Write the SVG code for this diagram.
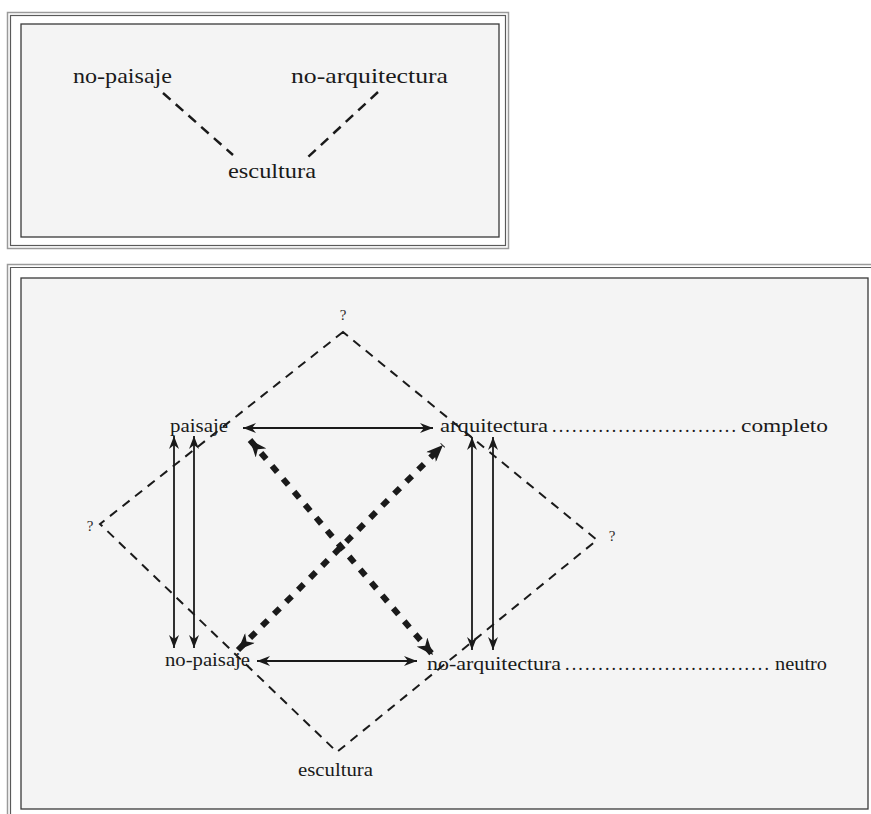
<svg xmlns="http://www.w3.org/2000/svg" width="871" height="814" viewBox="0 0 871 814">
  <style>
    .lbl { font-family: "Liberation Serif", "Times New Roman", serif; fill: #1a1a1a; }
    .top { font-size: 21px; }
    .bot { font-size: 18px; }
    .q { font-family: "Liberation Serif", "Times New Roman", serif; font-size: 15px; fill: #2a2a2a; }
    .frameA { fill: none; stroke: #9a9a9a; stroke-width: 1.5; }
    .frameB { fill: none; stroke: #5a5a5a; stroke-width: 1.2; }
    .panel { fill: #f4f4f4; stroke: #3a3a3a; stroke-width: 1.3; }
    .dash { fill: none; stroke: #1a1a1a; stroke-width: 2; stroke-dasharray: 9 7; }
    .dashT { fill: none; stroke: #1a1a1a; stroke-width: 2.5; stroke-dasharray: 10 7; }
    .thick { fill: none; stroke: #1a1a1a; stroke-width: 6; stroke-dasharray: 8 9; }
    .arr { fill: none; stroke: #1a1a1a; stroke-width: 1.8; }
  </style>
  <defs>
    <marker id="ah" markerUnits="userSpaceOnUse" markerWidth="14" markerHeight="12" refX="13" refY="5" orient="auto-start-reverse" viewBox="0 0 14 10">
      <path d="M0,0 L13,5 L0,10 L4,5 z" fill="#1a1a1a"/>
    </marker>
    <marker id="ahb" markerUnits="userSpaceOnUse" markerWidth="18" markerHeight="14" refX="17" refY="7" orient="auto-start-reverse" viewBox="0 0 18 14">
      <path d="M0,0 L17,7 L0,14 L5,7 z" fill="#1a1a1a"/>
    </marker>
  </defs>

  <rect width="871" height="814" fill="#ffffff"/>

  <!-- top panel frame -->
  <g id="frame-top">
    <rect class="frameA" x="7.5" y="12.5" width="501" height="236"/>
    <rect class="frameB" x="10.5" y="15.5" width="495" height="230"/>
    <rect class="panel" x="21" y="24" width="478" height="213"/>
  </g>

  <!-- bottom panel frame -->
  <g id="frame-bottom">
    <path class="frameA" d="M7.5,814 V264.5 H871"/>
    <path class="frameB" d="M10.5,814 V267.5 H871"/>
    <rect class="panel" x="21" y="278" width="847" height="531"/>
  </g>

  <!-- connectors -->
  <g id="connectors">
    <!-- top panel -->
    <line class="dashT" x1="163" y1="93" x2="233" y2="155"/>
    <line class="dashT" x1="378" y1="92" x2="307" y2="158"/>
    <!-- diamond -->
    <polygon class="dash" points="343,332 100,524 337,752 597,540"/>
    <!-- horizontal arrows -->
    <line class="arr" x1="243" y1="428" x2="433" y2="428" marker-start="url(#ah)" marker-end="url(#ah)"/>
    <line class="arr" x1="257" y1="661" x2="417" y2="661" marker-start="url(#ah)" marker-end="url(#ah)"/>
    <!-- vertical arrows left -->
    <line class="arr" x1="174" y1="436" x2="174" y2="648" marker-start="url(#ah)" marker-end="url(#ah)"/>
    <line class="arr" x1="194" y1="436" x2="194" y2="648" marker-start="url(#ah)" marker-end="url(#ah)"/>
    <!-- vertical arrows right -->
    <line class="arr" x1="472" y1="437" x2="472" y2="650" marker-start="url(#ah)" marker-end="url(#ah)"/>
    <line class="arr" x1="493" y1="437" x2="493" y2="650" marker-start="url(#ah)" marker-end="url(#ah)"/>
    <!-- thick dashed diagonals -->
    <line class="thick" x1="250" y1="440" x2="433" y2="655" marker-start="url(#ahb)" marker-end="url(#ahb)"/>
    <line class="thick" x1="238" y1="650" x2="443" y2="445" marker-start="url(#ahb)" marker-end="url(#ahb)"/>
  </g>

  <!-- top panel nodes -->
  <g id="t-no-paisaje"><text class="lbl top" x="73" y="83" textLength="99" lengthAdjust="spacingAndGlyphs">no-paisaje</text></g>
  <g id="t-no-arquitectura"><text class="lbl top" x="291" y="83" textLength="157" lengthAdjust="spacingAndGlyphs">no-arquitectura</text></g>
  <g id="t-escultura"><text class="lbl top" x="228" y="178" textLength="88" lengthAdjust="spacingAndGlyphs">escultura</text></g>

  <!-- bottom panel nodes -->
  <g id="q-top"><text class="q" x="343" y="320" text-anchor="middle">?</text></g>
  <g id="q-left"><text class="q" x="90" y="531" text-anchor="middle">?</text></g>
  <g id="q-right"><text class="q" x="612" y="541" text-anchor="middle">?</text></g>

  <g id="b-paisaje"><text class="lbl bot" x="170" y="432" textLength="58" lengthAdjust="spacingAndGlyphs">paisaje</text></g>
  <g id="b-arquitectura">
    <text class="lbl bot" x="440" y="432" textLength="108" lengthAdjust="spacingAndGlyphs">arquitectura</text>
    <text class="lbl bot" x="552" y="432" textLength="184" lengthAdjust="spacing">............................</text>
  </g>
  <g id="b-completo"><text class="lbl bot" x="741" y="432" textLength="87" lengthAdjust="spacingAndGlyphs">completo</text></g>

  <g id="b-no-paisaje"><text class="lbl bot" x="165" y="666" textLength="85" lengthAdjust="spacingAndGlyphs">no-paisaje</text></g>
  <g id="b-no-arquitectura">
    <text class="lbl bot" x="427" y="670" textLength="134" lengthAdjust="spacingAndGlyphs">no-arquitectura</text>
    <text class="lbl bot" x="565" y="670" textLength="204" lengthAdjust="spacing">...............................</text>
  </g>
  <g id="b-neutro"><text class="lbl bot" x="775" y="670" textLength="52" lengthAdjust="spacingAndGlyphs">neutro</text></g>

  <g id="b-escultura"><text class="lbl bot" x="298" y="776" textLength="75" lengthAdjust="spacingAndGlyphs">escultura</text></g>
</svg>
